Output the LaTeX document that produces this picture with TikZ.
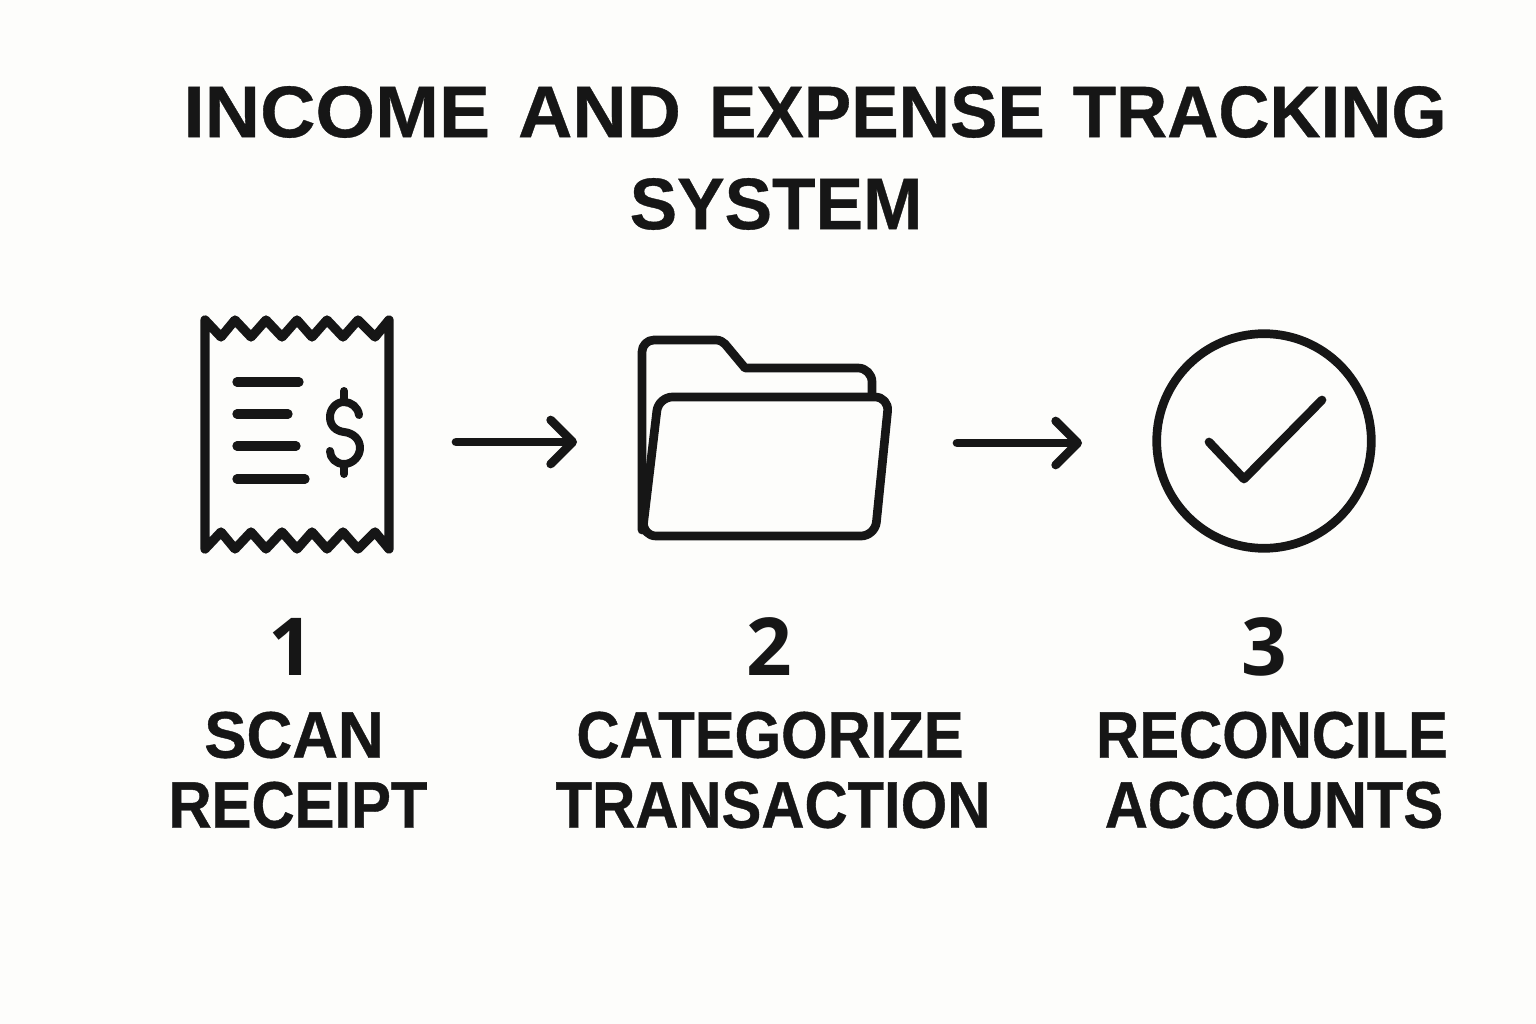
\documentclass[tikz,border=0pt]{standalone}
\usepackage{fontspec}
\setmainfont{Liberation Sans}
\newfontfamily\titlefont[WordSpace=1.38,FakeBold=0.5]{Liberation Sans Bold}
\newfontfamily\stepfont[FakeStretch=0.905,FakeBold=0.6]{Liberation Sans Bold}
\newfontfamily\numfont{Open Sans Bold}
\usetikzlibrary{arrows.meta}
\definecolor{myink}{RGB}{22, 22, 22}
\definecolor{mypaper}{RGB}{253, 253, 251}
\tikzset{
  icon/.style={line width=8.7pt,color=myink,line join=round,line cap=round},
  flow/.style={icon,-{Straight Barb[length=22pt,width=44pt,round]}},
  titletext/.style={inner sep=0pt,text=myink,font=\fontsize{73}{73}\selectfont\titlefont},
  steptext/.style={inner sep=0pt,text=myink,font=\fontsize{66}{66}\selectfont\stepfont},
  numtext/.style={inner sep=0pt,text=myink,font=\fontsize{80}{80}\selectfont\numfont},
}
\begin{document}
\begin{tikzpicture}[x=1pt,y=-1pt]
  \fill[mypaper] (0,0) rectangle (1536,1024);
  \useasboundingbox (0,0) rectangle (1536,1024);

  %Title
  \node[titletext] (title1) at (815,112) {\scalebox{1.05}[1]{INCOME} \scalebox{1.03}[1]{AND} \scalebox{.974}[1]{EXPENSE} \scalebox{.97}[1]{TRACKING}};
  \node[titletext] (title2) at (776,204) {\scalebox{.975}[1]{SYSTEM}};

  %Receipt
  \draw[icon,line width=9.3pt] (205,320)
    \foreach \x/\y in {221/337,235/320,251/337,266/320,282/337,297/320,312/337,327/320,343/337,358/320,375/337,389/320} {-- (\x,\y)}
    -- (389,549)
    \foreach \x/\y in {375/532,358/549,343/532,327/549,312/532,297/549,282/532,266/549,251/532,235/549,221/532,205/549} {-- (\x,\y)}
    -- cycle;
  \foreach \y/\e in {382/299,414/288,446/296,479/305}
    \draw[icon,line width=9.3pt] (237,\y) -- (\e,\y);
  %dollar sign
  \draw[icon,line width=8pt] (359,415) .. controls (358,407) and (351,402) .. (344,402)
    .. controls (336,402) and (330,409) .. (330,417)
    .. controls (330,426) and (336,431) .. (344,432)
    .. controls (353,433) and (360,439) .. (360,448)
    .. controls (360,456) and (353,464) .. (344,464)
    .. controls (336,464) and (330,458) .. (330,451);
  \draw[icon,line width=8pt] (344,391) -- (344,402);
  \draw[icon,line width=8pt] (344,464) -- (344,474);

  %Folder, back then front
  \draw[icon] (642,530) -- (642,352) arc (180:270:12) -- (716,340)
    .. controls (720,340) and (723,342) .. (725,344)
    -- (745,368) -- (858,368) arc (-90:0:14) -- (872,396);
  \draw[icon,rounded corners=14pt] (780,397) -- (889,397) -- (875,536) -- (642,536) -- (658.5,397) -- cycle;

  %Check mark
  \draw[icon] (1264,441) circle (107.3);
  \draw[icon] (1209,442) -- (1244,479) -- (1322,400);

  %Arrows
  \coordinate (arrow1a) at (456,442);
  \coordinate (arrow1b) at (577,442);
  \coordinate (arrow2a) at (957,443);
  \coordinate (arrow2b) at (1082,443);
  \draw[flow] (arrow1a) -- (arrow1b);
  \draw[flow] (arrow2a) -- (arrow2b);

  %Labels
  \foreach \n/\x/\t/\xa/\a/\xb/\b in {1/291/1/294/{\scalebox{1.06}[1]{SCAN}}/298/RECEIPT,
      2/769/2/770/CATEGORIZE/773/TRANSACTION,
      3/1264/3/1272/RECONCILE/1274/ACCOUNTS}
  {
    \node[numtext] (num\n) at (\x,647) {\t};
    \node[steptext] (top\n) at (\xa,735) {\a};
    \node[steptext] (bot\n) at (\xb,805) {\b};
  }
\end{tikzpicture}
\end{document}
